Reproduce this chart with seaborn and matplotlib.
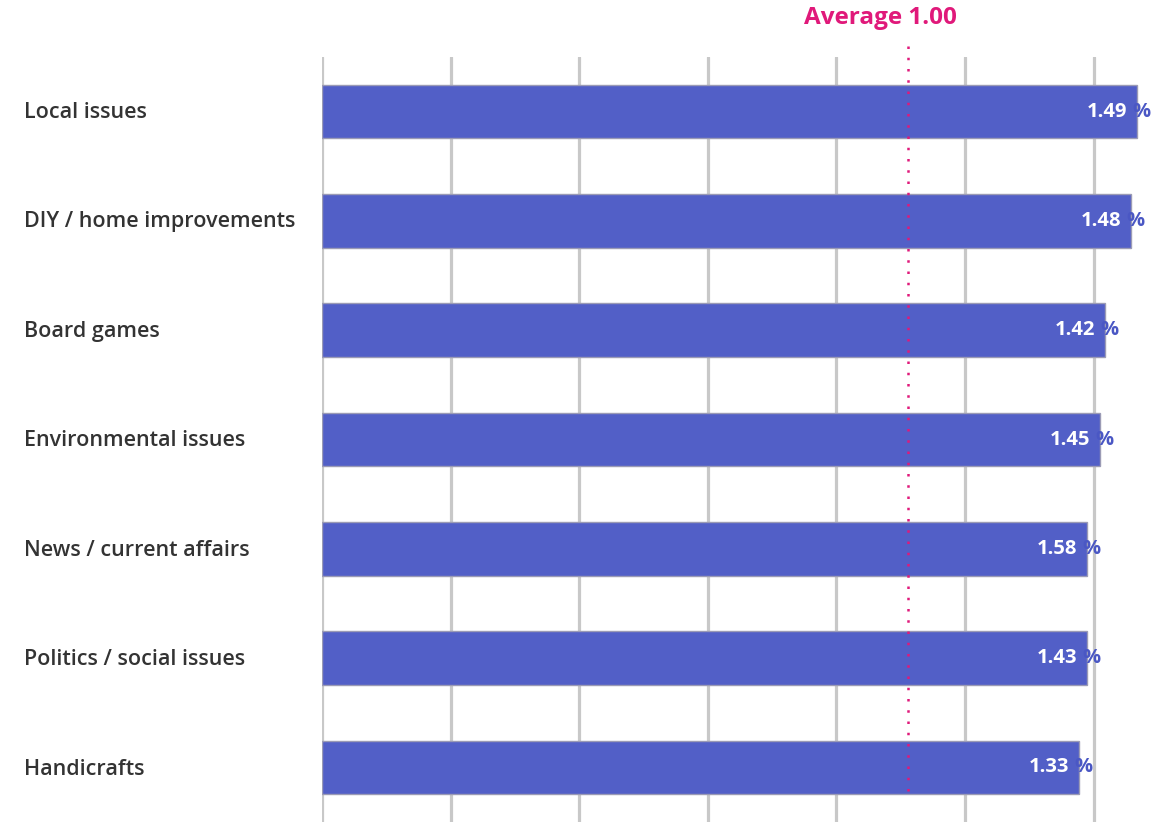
import matplotlib
matplotlib.use("Agg")
import matplotlib.pyplot as plt
import seaborn as sns
import pandas as pd

categories = ["Local issues", "DIY / home improvements", "Board games",
              "Environmental issues", "News / current affairs",
              "Politics / social issues", "Handicrafts"]
share_pct = [63.4, 62.9, 60.9, 60.5, 59.5, 59.5, 58.9]
index_labels = ["1.49", "1.48", "1.42", "1.45", "1.58", "1.43", "1.33"]
average_pos = 45.6
average_label = "Average 1.00"
grid_ticks = [0, 10, 20, 30, 40, 50, 60]

df = pd.DataFrame({"category": categories, "share": share_pct})

sns.set_theme(style="white")
plt.rcParams['font.family'] = ['Open Sans', 'DejaVu Sans']

fig = plt.figure(figsize=(11.54, 8.22), dpi=100)
ax = fig.add_axes([322/1154, 0.0, (1154-322)/1154, (822-57)/822])

for g in grid_ticks:
    ax.axvline(g, color="#c8c8c8", lw=2.3, zorder=0)

sns.barplot(data=df, y="category", x="share", orient="h", color="#525fc7",
            saturation=1, width=0.49, edgecolor="#9b9bb5", linewidth=1.0,
            ax=ax, zorder=2)

ax.set_xlim(0, (1154-322)/12.86)
ax.set_ylim(6.5, -0.5)
ax.set_xlabel("")
ax.set_ylabel("")
ax.set_xticks([])
ax.set_yticks([])
for s in ax.spines.values():
    s.set_visible(False)

for i, (v, lab) in enumerate(zip(share_pct, index_labels)):
    ax.annotate("%", xy=(v, i), xytext=(-5, 0), textcoords="offset pixels",
                ha="left", va="center", fontsize=14.5, fontweight="bold",
                color="#4a57c4", zorder=4)
    ax.annotate(lab, xy=(v, i), xytext=(-10, 0), textcoords="offset pixels",
                ha="right", va="center", fontsize=14.5, fontweight="bold",
                color="white", zorder=5)

ax.axvline(average_pos, ymin=0.04, ymax=1.022, color="#e0197a", lw=1.8,
           linestyle=(0, (1, 3.5)), zorder=3, clip_on=False)
fig.text(880/1154, 1 - 18/822, average_label, ha="center", va="center",
         fontsize=17.5, fontweight="bold", color="#e0197a")

for i, c in enumerate(categories):
    y_px = 112 + i * 109.5
    fig.text(24/1154, 1 - y_px/822, c, ha="left", va="center",
             fontsize=15.5, fontweight="semibold", color="#333333")

fig.savefig("out.png", dpi=100)
